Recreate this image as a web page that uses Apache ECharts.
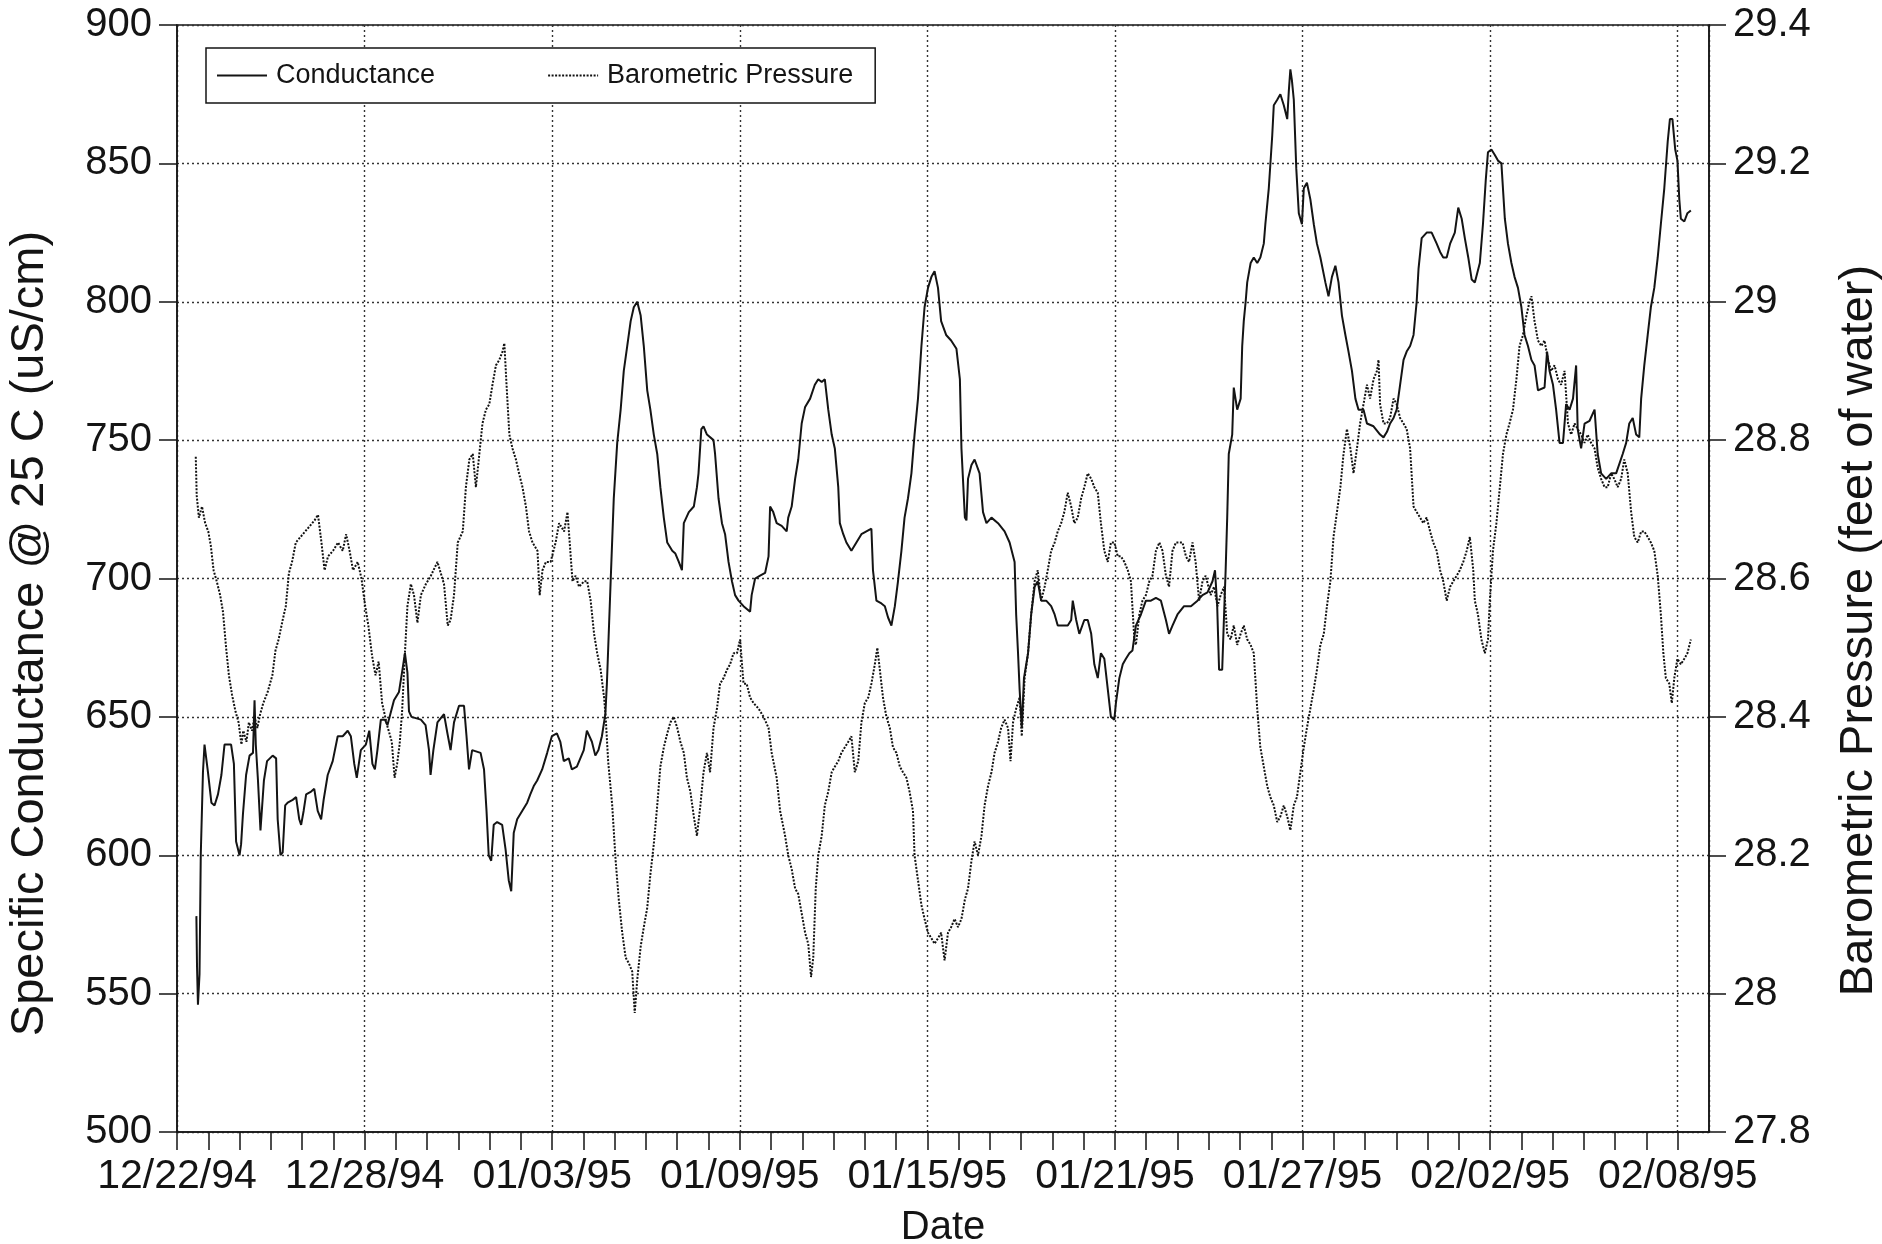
<!DOCTYPE html>
<html>
<head>
<meta charset="utf-8">
<script src="https://cdn.jsdelivr.net/npm/echarts@6/dist/echarts.min.js"></script>
<style>
html,body{margin:0;padding:0;background:#fff;}
#chart{width:1882px;height:1244px;}
</style>
</head>
<body>
<div id="chart"></div>
<script>
// Days are counted from 12/22/94 00:00
const xTickLabels = ['12/22/94','12/28/94','01/03/95','01/09/95','01/15/95','01/21/95','01/27/95','02/02/95','02/08/95'];

const condDays = [
0.62,0.64,0.67,0.72,0.76,0.83,0.88,0.94,0.99,1.10,1.20,1.31,1.42,1.52,1.73,1.82,1.89,2.00,2.05,2.11,
2.21,2.32,2.43,2.48,2.52,2.59,2.67,2.78,2.88,3.06,3.17,3.22,3.31,3.38,3.46,3.54,3.70,3.81,3.91,3.97,
4.05,4.13,4.29,4.39,4.50,4.61,4.69,4.82,4.98,5.14,5.30,5.46,5.56,5.67,5.75,5.88,6.04,6.15,6.25,6.33,
6.41,6.52,6.65,6.73,6.94,7.10,7.21,7.29,7.37,7.42,7.50,7.80,7.95,8.06,8.11,8.20,8.33,8.54,8.65,8.75,
8.86,9.02,9.18,9.26,9.34,9.44,9.71,9.82,9.90,9.97,10.05,10.13,10.24,10.40,10.51,10.61,10.69,10.77,10.88,11.04,
11.20,11.30,11.41,11.52,11.68,11.84,11.99,12.15,12.26,12.37,12.53,12.63,12.79,13.01,13.11,13.27,13.38,13.48,13.59,13.70,
13.75,13.87,13.97,14.08,14.19,14.29,14.40,14.51,14.61,14.72,14.83,14.93,15.04,15.14,15.25,15.36,15.46,15.57,15.68,15.84,
15.94,16.05,16.15,16.21,16.37,16.53,16.63,16.68,16.77,16.84,16.95,17.16,17.21,17.32,17.43,17.53,17.64,17.75,17.85,17.96,
18.12,18.33,18.38,18.49,18.65,18.81,18.92,18.97,19.07,19.18,19.34,19.50,19.55,19.66,19.77,19.87,19.98,20.09,20.25,20.40,
20.51,20.62,20.72,20.83,20.94,21.04,21.15,21.20,21.31,21.41,21.57,21.73,21.89,22.05,22.21,22.26,22.37,22.53,22.64,22.74,
22.85,22.96,23.06,23.17,23.27,23.38,23.49,23.59,23.70,23.81,23.91,24.02,24.13,24.23,24.34,24.44,24.60,24.76,24.93,25.04,
25.09,25.20,25.25,25.30,25.41,25.51,25.67,25.78,25.89,26.05,26.26,26.47,26.63,26.79,26.84,26.90,26.95,27.02,27.09,27.22,
27.32,27.43,27.53,27.64,27.80,27.96,28.07,28.17,28.33,28.49,28.60,28.65,28.76,28.86,29.02,29.13,29.24,29.34,29.45,29.55,
29.66,29.77,29.87,29.98,30.03,30.14,30.25,30.35,30.46,30.56,30.67,30.83,30.99,31.15,31.31,31.47,31.63,31.73,31.84,32.00,
32.21,32.43,32.64,32.80,32.96,33.12,33.20,33.27,33.33,33.43,33.49,33.54,33.59,33.64,33.75,33.80,33.91,34.02,34.07,34.12,
34.18,34.23,34.34,34.44,34.55,34.65,34.76,34.81,34.92,35.03,35.08,35.19,35.29,35.40,35.51,35.56,35.61,35.66,35.72,35.80,
35.88,35.98,36.04,36.14,36.25,36.36,36.46,36.57,36.73,36.83,36.94,37.05,37.15,37.26,37.37,37.47,37.58,37.69,37.79,37.95,
38.06,38.27,38.48,38.59,38.70,38.80,38.91,39.01,39.12,39.23,39.33,39.44,39.55,39.65,39.71,39.81,39.97,40.13,40.29,40.40,
40.50,40.61,40.72,40.87,40.98,41.09,41.19,41.30,41.41,41.51,41.67,41.77,41.86,41.93,42.04,42.15,42.25,42.36,42.47,42.57,
42.68,42.78,42.89,43.00,43.10,43.21,43.32,43.42,43.53,43.74,43.82,43.90,44.01,44.11,44.22,44.33,44.43,44.54,44.65,44.75,
44.80,44.91,45.02,45.18,45.34,45.44,45.55,45.71,45.87,46.03,46.24,46.35,46.45,46.56,46.67,46.77,46.83,46.93,47.04,47.14,
47.25,47.36,47.46,47.57,47.68,47.75,47.83,47.92,47.99,48.05,48.10,48.21,48.31,48.42
];
const condVals = [
578,560,546,557,600,630,640,640,630,619,618,622,629,640,640,633,605,600,604,615,
629,636,637,656,640,627,609,627,634,636,635,613,600,601,618,619,620,621,613,611,
616,622,623,624,616,613,620,629,634,643,643,645,643,633,628,638,640,645,633,631,
638,649,649,647,656,659,667,673,666,652,650,649,647,638,629,638,648,651,644,638,
648,654,654,643,631,638,637,631,616,600,598,611,612,611,602,591,587,608,613,616,
619,622,625,627,631,637,643,644,641,634,635,631,632,638,645,641,636,638,643,651,
662,699,729,749,761,775,784,793,798,800,795,784,768,761,752,745,733,722,713,710,
709,706,703,720,724,726,733,738,754,755,752,750,745,729,720,716,706,699,694,692,
690,688,694,700,701,702,708,726,724,720,719,717,722,726,736,743,756,762,765,770,
772,771,772,761,752,747,733,720,716,713,710,713,716,717,718,703,692,691,690,686,
683,690,699,710,722,729,738,752,765,784,798,805,809,811,805,793,788,786,783,772,
747,722,721,736,741,743,738,724,720,722,720,717,713,706,687,673,660,646,664,673,
687,697,699,692,692,690,687,683,683,683,685,692,685,680,685,685,680,669,664,673,
671,660,650,649,655,664,669,671,673,674,683,687,692,692,693,692,685,680,683,687,
690,690,692,694,695,699,703,690,667,667,687,703,722,745,752,769,761,765,784,793,
800,807,814,816,814,816,821,828,841,860,871,873,875,871,866,876,884,880,873,848,
832,828,841,843,837,828,821,816,807,802,809,813,807,795,788,782,775,765,761,761,
756,755,752,751,753,756,758,761,770,779,782,784,788,800,812,823,825,825,821,818,
816,816,821,825,834,830,823,816,808,807,814,828,844,854,855,853,851,850,830,821,
814,809,805,798,788,784,779,777,768,769,782,775,770,761,749,749,763,761,765,777,
754,747,756,757,761,745,738,736,738,738,745,749,756,758,752,751,765,777,788,798,
805,816,828,841,858,866,866,855,851,837,830,829,832,833
];

const presDays = [
0.60,0.63,0.70,0.80,0.90,1.00,1.08,1.17,1.27,1.38,1.47,1.57,1.66,1.76,1.87,1.97,2.06,2.12,2.22,2.30,
2.40,2.48,2.57,2.66,2.76,2.90,3.05,3.15,3.25,3.38,3.48,3.58,3.68,3.80,3.95,4.10,4.25,4.40,4.51,4.62,
4.72,4.83,4.99,5.15,5.30,5.41,5.52,5.63,5.78,5.90,6.02,6.12,6.24,6.35,6.45,6.56,6.72,6.87,6.96,7.04,
7.12,7.20,7.29,7.37,7.48,7.58,7.69,7.80,7.96,8.12,8.33,8.54,8.66,8.75,8.86,8.98,9.14,9.24,9.35,9.46,
9.56,9.67,9.77,9.88,9.99,10.09,10.20,10.31,10.41,10.47,10.54,10.63,10.73,10.84,10.94,11.05,11.16,11.26,11.37,11.53,
11.60,11.69,11.80,11.95,12.11,12.22,12.38,12.49,12.56,12.65,12.75,12.86,13.02,13.12,13.23,13.34,13.44,13.55,13.66,13.71,
13.79,13.92,14.03,14.13,14.24,14.35,14.45,14.56,14.64,14.72,14.83,14.93,15.04,15.14,15.25,15.36,15.46,15.57,15.68,15.78,
15.89,16.00,16.10,16.21,16.31,16.42,16.53,16.63,16.74,16.84,16.95,17.05,17.16,17.27,17.37,17.48,17.59,17.69,17.80,17.91,
18.01,18.12,18.22,18.33,18.44,18.60,18.76,18.92,19.02,19.18,19.29,19.45,19.55,19.66,19.77,19.87,19.98,20.09,20.19,20.28,
20.35,20.43,20.51,20.62,20.72,20.83,20.94,21.04,21.15,21.25,21.36,21.47,21.57,21.68,21.79,21.89,22.00,22.11,22.21,22.32,
22.40,22.48,22.58,22.69,22.80,22.90,23.01,23.12,23.22,23.33,23.43,23.54,23.59,23.70,23.81,23.91,24.02,24.13,24.23,24.34,
24.44,24.55,24.66,24.76,24.87,24.98,25.09,25.20,25.30,25.41,25.51,25.62,25.73,25.83,25.94,26.05,26.15,26.26,26.36,26.47,
26.58,26.66,26.74,26.84,26.95,27.02,27.11,27.22,27.32,27.43,27.53,27.64,27.75,27.85,27.96,28.07,28.17,28.28,28.38,28.49,
28.60,28.70,28.81,28.92,29.02,29.13,29.24,29.34,29.45,29.55,29.66,29.77,29.87,29.98,30.09,30.19,30.30,30.41,30.51,30.62,
30.67,30.78,30.88,30.99,31.10,31.20,31.31,31.42,31.52,31.63,31.73,31.84,31.95,32.05,32.16,32.27,32.37,32.48,32.58,32.69,
32.80,32.90,33.06,33.17,33.28,33.38,33.49,33.59,33.70,33.80,33.91,34.02,34.12,34.23,34.34,34.44,34.55,34.65,34.76,34.87,
34.97,35.08,35.19,35.29,35.40,35.51,35.61,35.72,35.82,35.93,36.04,36.14,36.25,36.36,36.46,36.57,36.68,36.78,36.89,36.99,
37.10,37.21,37.31,37.42,37.53,37.63,37.74,37.84,37.95,38.06,38.16,38.27,38.38,38.43,38.48,38.59,38.70,38.80,38.91,39.01,
39.12,39.23,39.33,39.44,39.55,39.65,39.76,39.86,39.97,40.08,40.18,40.29,40.40,40.50,40.61,40.72,40.82,40.93,41.03,41.14,
41.25,41.35,41.46,41.51,41.61,41.72,41.83,41.93,41.99,42.09,42.20,42.31,42.41,42.52,42.62,42.73,42.84,42.94,43.05,43.16,
43.26,43.32,43.42,43.53,43.64,43.74,43.85,43.95,44.06,44.17,44.27,44.38,44.49,44.59,44.70,44.80,44.91,45.02,45.12,45.23,
45.34,45.44,45.55,45.66,45.76,45.87,45.97,46.08,46.19,46.29,46.40,46.51,46.61,46.72,46.83,46.93,47.04,47.14,47.25,47.36,
47.46,47.54,47.62,47.73,47.81,47.89,47.99,48.10,48.21,48.31,48.42
];
const presVals = [
28.776,28.720,28.688,28.704,28.680,28.668,28.648,28.612,28.596,28.576,28.552,28.500,28.460,28.432,28.408,28.392,28.360,28.380,28.364,28.392,
28.380,28.400,28.384,28.404,28.420,28.436,28.460,28.496,28.512,28.540,28.560,28.608,28.624,28.652,28.660,28.668,28.676,28.684,28.692,28.652,
28.612,28.632,28.640,28.652,28.640,28.664,28.640,28.612,28.624,28.600,28.560,28.532,28.488,28.460,28.480,28.420,28.388,28.364,28.312,28.332,
28.360,28.408,28.492,28.560,28.592,28.576,28.536,28.576,28.592,28.604,28.624,28.592,28.532,28.540,28.576,28.652,28.668,28.732,28.772,28.780,
28.732,28.780,28.824,28.844,28.852,28.880,28.908,28.916,28.928,28.940,28.880,28.808,28.788,28.772,28.752,28.732,28.704,28.668,28.652,28.640,
28.576,28.612,28.624,28.624,28.652,28.680,28.668,28.696,28.652,28.596,28.604,28.588,28.596,28.596,28.568,28.520,28.492,28.468,28.428,28.400,
28.336,28.272,28.192,28.136,28.088,28.052,28.044,28.032,27.972,28.020,28.068,28.096,28.124,28.172,28.216,28.272,28.328,28.356,28.376,28.392,
28.400,28.384,28.364,28.348,28.312,28.292,28.256,28.228,28.272,28.320,28.348,28.320,28.384,28.412,28.448,28.456,28.468,28.476,28.492,28.492,
28.512,28.448,28.448,28.428,28.420,28.412,28.400,28.384,28.348,28.312,28.264,28.228,28.200,28.180,28.152,28.144,28.116,28.088,28.072,28.024,
28.052,28.152,28.200,28.228,28.272,28.292,28.320,28.328,28.336,28.348,28.356,28.364,28.372,28.320,28.336,28.392,28.420,28.428,28.448,28.476,
28.500,28.468,28.428,28.400,28.384,28.356,28.348,28.328,28.320,28.312,28.292,28.264,28.200,28.164,28.128,28.108,28.088,28.080,28.072,28.080,
28.088,28.048,28.088,28.096,28.108,28.096,28.108,28.136,28.152,28.192,28.220,28.200,28.228,28.272,28.300,28.320,28.348,28.364,28.384,28.396,
28.384,28.336,28.392,28.412,28.428,28.372,28.456,28.492,28.548,28.596,28.612,28.568,28.588,28.612,28.640,28.652,28.668,28.680,28.696,28.724,
28.704,28.680,28.688,28.716,28.732,28.752,28.744,28.732,28.724,28.680,28.640,28.624,28.652,28.652,28.632,28.632,28.624,28.612,28.596,28.512,
28.504,28.548,28.568,28.576,28.596,28.604,28.640,28.652,28.640,28.604,28.588,28.640,28.652,28.652,28.652,28.632,28.624,28.652,28.624,28.568,
28.596,28.604,28.576,28.588,28.560,28.576,28.588,28.520,28.512,28.532,28.504,28.520,28.532,28.512,28.504,28.492,28.412,28.356,28.328,28.300,
28.284,28.272,28.248,28.256,28.272,28.256,28.236,28.272,28.284,28.320,28.356,28.384,28.412,28.440,28.468,28.504,28.520,28.560,28.596,28.660,
28.696,28.732,28.780,28.816,28.788,28.752,28.788,28.824,28.852,28.880,28.860,28.888,28.900,28.916,28.852,28.824,28.824,28.832,28.860,28.852,
28.832,28.824,28.816,28.788,28.704,28.696,28.688,28.680,28.688,28.668,28.652,28.640,28.612,28.596,28.568,28.588,28.596,28.604,28.612,28.624,
28.640,28.660,28.612,28.568,28.548,28.512,28.492,28.512,28.568,28.640,28.680,28.732,28.780,28.808,28.824,28.844,28.888,28.936,28.952,28.980,
29.000,29.008,28.972,28.944,28.936,28.944,28.916,28.900,28.908,28.888,28.880,28.900,28.824,28.808,28.824,28.816,28.808,28.796,28.808,28.796,
28.788,28.760,28.744,28.732,28.732,28.752,28.744,28.732,28.744,28.772,28.752,28.696,28.660,28.652,28.668,28.668,28.660,28.652,28.640,28.604,
28.548,28.492,28.456,28.448,28.420,28.456,28.484,28.476,28.484,28.492,28.512
];

const FONT = '"Liberation Sans", Arial, Helvetica, sans-serif';
const INK = '#141414';

const condData = condDays.map((d, i) => [d, condVals[i]]);
const presData = presDays.map((d, i) => [d, presVals[i]]);

const chart = echarts.init(document.getElementById('chart'), null, {renderer: 'canvas'});

const option = {
  animation: false,
  backgroundColor: '#ffffff',
  textStyle: {fontFamily: FONT, color: INK},
  grid: {left: 177, right: 173, top: 25, bottom: 112, show: true, borderColor: INK, borderWidth: 1.5,
         backgroundColor: 'transparent', containLabel: false, outerBoundsMode: 'none'},
  legend: {
    left: 206, top: 48, orient: 'horizontal',
    backgroundColor: '#ffffff', borderColor: INK, borderWidth: 1.5,
    padding: [14, 22, 14, 10],
    itemWidth: 50, itemHeight: 4, itemGap: 112,
    itemStyle: {opacity: 0},
    textStyle: {fontSize: 27, color: INK, fontFamily: FONT, lineHeight: 27, padding: [0, 0, 0, 4]},
    data: ['Conductance', 'Barometric Pressure']
  },
  xAxis: [
    {
      type: 'value', min: 0, max: 49, interval: 1, position: 'bottom',
      axisLine: {show: true, onZero: false, lineStyle: {color: INK, width: 1.5}},
      axisTick: {show: true, inside: false, length: 18, lineStyle: {color: INK, width: 1.5}},
      axisLabel: {
        margin: 24, fontSize: 41, color: INK, fontFamily: FONT, showMaxLabel: false,
        formatter: function (v) { const k = Math.round(v); return (k % 6 === 0 && xTickLabels[k / 6]) ? xTickLabels[k / 6] : ''; }
      },
      splitLine: {show: false},
      name: 'Date', nameLocation: 'middle', nameGap: 76,
      nameTextStyle: {fontSize: 40, color: INK, fontFamily: FONT}
    },
    {
      type: 'value', min: 0, max: 49, interval: 6, position: 'bottom',
      axisLine: {show: false, onZero: false}, axisTick: {show: false}, axisLabel: {show: false},
      splitLine: {show: true, lineStyle: {type: [2, 3], color: '#333', width: 1.4}}
    }
  ],
  yAxis: [
    {
      type: 'value', min: 500, max: 900, interval: 50, position: 'left',
      axisLine: {show: true, onZero: false, lineStyle: {color: INK, width: 1.5}},
      axisTick: {show: true, inside: false, length: 18, lineStyle: {color: INK, width: 1.5}},
      axisLabel: {margin: 25, fontSize: 40, color: INK, fontFamily: FONT},
      splitLine: {show: true, lineStyle: {type: [2, 3], color: '#333', width: 1.4}},
      name: 'Specific Conductance @ 25 C (uS/cm)', nameLocation: 'middle', nameRotate: 90, nameGap: 123,
      nameTextStyle: {fontSize: 47, color: INK, fontFamily: FONT, padding: [0, 110, 0, 0]}
    },
    {
      type: 'value', min: 27.8, max: 29.4, interval: 0.2, position: 'right',
      axisLine: {show: true, onZero: false, lineStyle: {color: INK, width: 1.5}},
      axisTick: {show: true, inside: false, length: 17, lineStyle: {color: INK, width: 1.5}},
      axisLabel: {margin: 24, fontSize: 40, color: INK, fontFamily: FONT,
        formatter: function (v) { return String(parseFloat(v.toFixed(1))); }},
      splitLine: {show: false},
      name: 'Barometric Pressure (feet of water)', nameLocation: 'middle', nameRotate: 90, nameGap: 127,
      nameTextStyle: {fontSize: 47, color: INK, fontFamily: FONT, padding: [0, 104, 0, 0]}
    }
  ],
  series: [
    {
      name: 'Conductance', type: 'line', xAxisIndex: 0, yAxisIndex: 0,
      data: condData, symbol: 'none', showSymbol: false,
      lineStyle: {color: INK, width: 2, type: 'solid'}, itemStyle: {color: INK}, z: 3
    },
    {
      name: 'Barometric Pressure', type: 'line', xAxisIndex: 0, yAxisIndex: 1,
      data: presData, symbol: 'none', showSymbol: false,
      lineStyle: {color: '#111111', width: 2, type: [2, 1.5]}, itemStyle: {color: INK}, z: 2
    }
  ]
};
chart.setOption(option);
</script>
</body>
</html>
